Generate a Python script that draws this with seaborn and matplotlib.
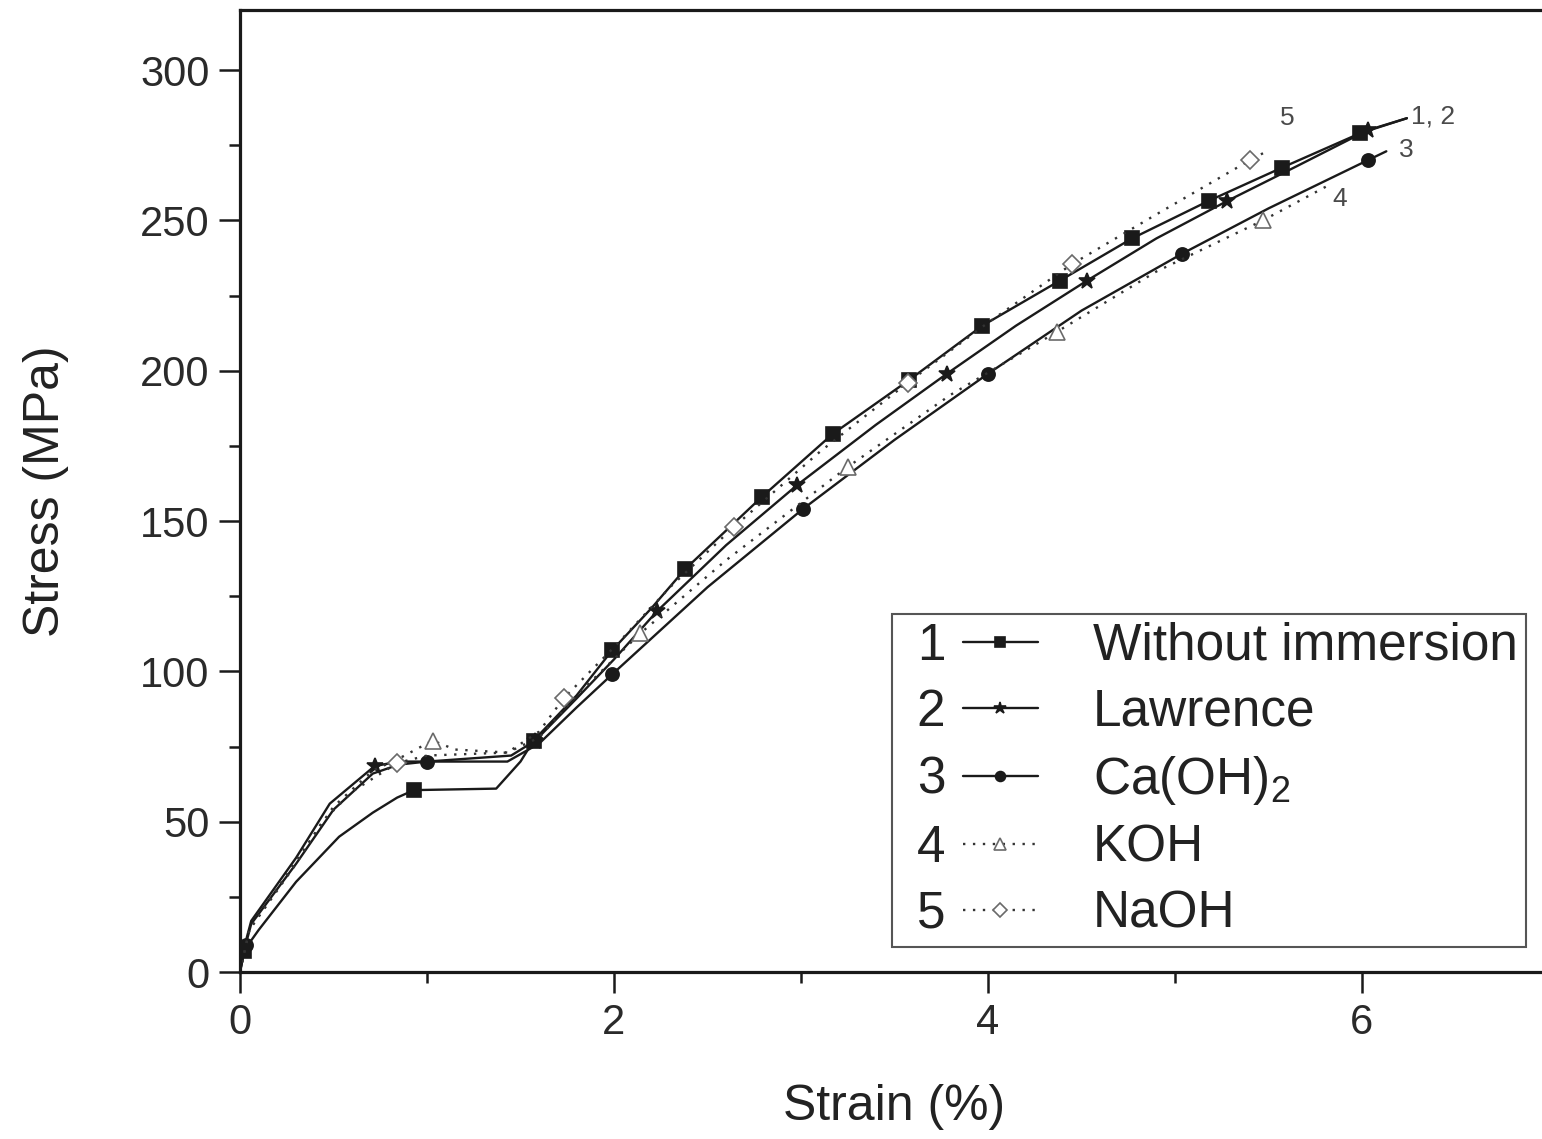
import matplotlib
matplotlib.use("Agg")
import matplotlib.pyplot as plt
import seaborn as sns
from matplotlib.legend_handler import HandlerLine2D
from matplotlib.text import Text
from matplotlib.ticker import MultipleLocator

# ---- stress-strain data (strain in %, stress in MPa) ----
strain_1 = [0, 0.02, 0.1, 0.3, 0.53, 0.71, 0.84, 0.93, 1.37, 1.5, 1.57, 1.8, 1.99, 2.2,
            2.38, 2.79, 3.17, 3.58, 3.97, 4.385, 4.77, 5.18, 5.57, 5.99, 6.24]
stress_1 = [0, 7, 14, 30, 45, 53, 58, 60.5, 61, 70, 77, 92, 107, 121,
            134, 158, 179, 197, 215, 230, 244, 256.5, 267.5, 279, 284]
marks_1 = [1, 7, 10, 12, 14, 15, 16, 17, 18, 19, 20, 21, 22, 23]

strain_2 = [0, 0.03, 0.06, 0.3, 0.48, 0.72, 0.85, 1.0, 1.45, 1.58, 1.8, 2.0, 2.23, 2.6,
            2.98, 3.4, 3.78, 4.15, 4.53, 4.9, 5.28, 5.65, 6.03, 6.24]
stress_2 = [0, 10, 17, 38, 56, 68.5, 70, 70, 72, 77, 91, 104, 120, 142,
            162, 182, 199, 215, 230, 244, 256.5, 268, 280, 284]
marks_2 = [5, 9, 12, 14, 16, 18, 20, 22]

strain_3 = [0, 0.03, 0.06, 0.3, 0.5, 0.71, 0.85, 1.0, 1.43, 1.6, 1.8, 1.99, 2.5, 3.01,
            3.5, 4.0, 4.5, 5.04, 5.5, 6.03, 6.13]
stress_3 = [0, 9, 16, 36, 54, 66, 69, 70, 70, 76, 88, 99, 128, 154,
            177, 199, 220, 239, 254, 270, 273]
marks_3 = [1, 7, 11, 13, 15, 17, 19]

strain_4 = [0, 0.05, 0.3, 0.5, 0.71, 0.85, 1.03, 1.15, 1.43, 1.6, 1.8, 2.14, 2.6, 3.25,
            3.8, 4.37, 4.9, 5.47, 5.83]
stress_4 = [0, 14, 37, 55, 67, 71, 77, 74, 73, 78, 92, 112.6, 137, 168,
            192, 213, 233, 250, 262]
marks_4 = [6, 11, 13, 15, 17]

strain_5 = [0, 0.05, 0.3, 0.44, 0.6, 0.84, 1.0, 1.43, 1.6, 1.73, 2.0, 2.3, 2.64, 3.1,
            3.57, 4.0, 4.45, 4.9, 5.40, 5.49]
stress_5 = [0, 14, 36, 50, 60, 69.5, 72, 73, 80, 91, 108, 128, 148, 173,
            196, 216, 235.5, 252, 270, 273]
marks_5 = [5, 9, 12, 14, 16, 18]

series_names = ["Without immersion", "Lawrence", "Ca(OH)$_2$", "KOH", "NaOH"]
series_numbers = ["1", "2", "3", "4", "5"]
end_labels = ["5", "1, 2", "3", "4"]
end_label_pos = [(5.56, 284), (6.26, 284.5), (6.2, 273.5), (5.84, 257)]

# ---- style ----
sns.set_style("ticks")
plt.rcParams["font.family"] = ["Liberation Sans", "DejaVu Sans"]
plt.rcParams["mathtext.fontset"] = "custom"
plt.rcParams["mathtext.rm"] = "Liberation Sans"
plt.rcParams["mathtext.default"] = "regular"

INK = "#1a1a1a"
DOT = "#333333"
OPEN = "#6a6a6a"

fig = plt.figure(figsize=(15.42, 11.39), dpi=100)
ax = fig.add_axes([240 / 1542, 1 - 972 / 1139, (1549 - 240) / 1542, 962 / 1139])

styles = [
    dict(color=INK, ls="-", marker="s", ms=9.5, mfc=INK, mec=INK),
    dict(color=INK, ls="-", marker="*", ms=12, mfc=INK, mec=INK),
    dict(color=INK, ls="-", marker="o", ms=9.5, mfc=INK, mec=INK),
    dict(color=DOT, ls=(0, (1, 3.2)), marker="^", ms=12, mfc="white", mec=OPEN),
    dict(color=DOT, ls=(0, (1, 3.2)), marker="D", ms=9.5, mfc="white", mec=OPEN),
]
data = [
    (strain_1, stress_1, marks_1),
    (strain_2, stress_2, marks_2),
    (strain_3, stress_3, marks_3),
    (strain_4, stress_4, marks_4),
    (strain_5, stress_5, marks_5),
]

for (xs, ys, mk), st, name in zip(data, styles, series_names):
    sns.lineplot(x=xs, y=ys, ax=ax, sort=False, estimator=None,
                 color=st["color"], linestyle=st["ls"], lw=1.7,
                 marker=st["marker"], markevery=mk, ms=st["ms"],
                 mfc=st["mfc"], mec=st["mec"], mew=1.2, label=name)

for txt, (x, y) in zip(end_labels, end_label_pos):
    ax.text(x, y, txt, fontsize=19, color="#4a4a4a", ha="left", va="center")

# ---- axes ----
ax.set_xlim(0, 7)
ax.set_ylim(0, 320)
ax.xaxis.set_major_locator(MultipleLocator(2))
ax.xaxis.set_minor_locator(MultipleLocator(1))
ax.yaxis.set_major_locator(MultipleLocator(50))
ax.yaxis.set_minor_locator(MultipleLocator(25))
ax.tick_params(which="both", direction="out", top=False, right=False,
               width=1.8, color=INK)
ax.tick_params(which="major", length=15, labelsize=30, pad=7, labelcolor="#2a2a2a")
ax.tick_params(which="minor", length=8)
for sp in ax.spines.values():
    sp.set_linewidth(2.3)
    sp.set_color(INK)
ax.spines["right"].set_visible(False)

ax.set_xlabel("Strain (%)", fontsize=36, color="#222222", labelpad=30)
ax.set_ylabel("Stress (MPa)", fontsize=36, color="#222222", labelpad=51)


# ---- legend with leading series numbers ----
class NumberedLine(HandlerLine2D):
    def __init__(self, number, offset, shift, **kw):
        super().__init__(**kw)
        self.number = number
        self.offset = offset
        self.shift = shift

    def create_artists(self, legend, orig_handle, xdescent, ydescent,
                       width, height, fontsize, trans):
        off = self.offset * fontsize
        artists = super().create_artists(legend, orig_handle, xdescent - off,
                                         ydescent, width - off, height,
                                         fontsize, trans)
        num = Text(-xdescent + self.shift * fontsize, 0, self.number,
                   fontsize=fontsize, color="#222222", ha="left", va="baseline",
                   family=["Liberation Sans", "DejaVu Sans"])
        num.set_transform(trans)
        return list(artists) + [num]


handles, labels = ax.get_legend_handles_labels()
hmap = {h: NumberedLine(n, 1.22, 0.32) for h, n in zip(handles, series_numbers)}
leg = ax.legend(handles, labels, handler_map=hmap, loc="lower right",
                bbox_to_anchor=(1526 / 1542, 1 - 947 / 1139),
                bbox_transform=fig.transFigure, borderaxespad=0,
                fontsize=37, handlelength=2.68, handletextpad=1.07,
                borderpad=0.16, labelspacing=0.33, markerscale=0.75,
                frameon=True, fancybox=False, edgecolor="#555555",
                framealpha=1)
leg.get_frame().set_linewidth(1.5)
for t in leg.get_texts():
    t.set_color("#222222")

fig.savefig("out.png", dpi=100)
